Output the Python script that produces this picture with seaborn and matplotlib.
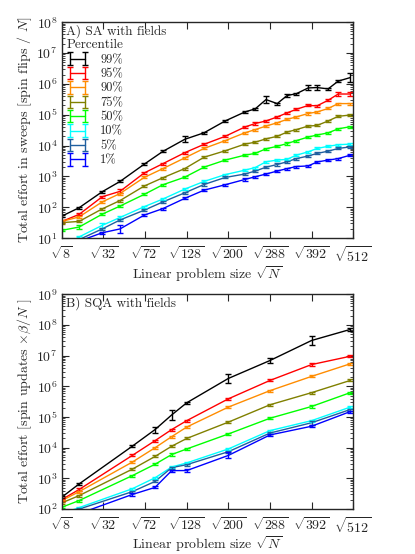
import numpy as np
import pandas as pd
import matplotlib
matplotlib.use("Agg")
import matplotlib.pyplot as plt
from matplotlib.ticker import LogLocator, NullFormatter
import seaborn as sns

# percentiles and colours
percentiles = ["99%", "95%", "90%", "75%", "50%", "10%", "5%", "1%"]
colors = ["#000000", "#ff0000", "#ff8c00", "#808000", "#00ff00", "#00ffff", "#1f5f9f", "#0000ff"]

# problem sizes N
sa_n = [8, 16, 31, 46, 71, 94, 125, 156, 194, 233, 255, 279, 305, 329, 352, 383, 407, 438, 467, 503]
sqa_n = [8, 16, 58, 84, 106, 128, 200, 288, 392, 503]

# A) SA with fields, total effort (sweeps)
sa_p99 = [52, 97, 320, 690, 2500, 6500, 16000, 26000, 63000, 123000, 155000, 310000, 230000, 420000, 480000, 740000, 760000, 690000, 1230000, 1600000]
sa_p95 = [35, 59, 220, 330, 1300, 2600, 5900, 11000, 20000, 40000, 52000, 63000, 85000, 115000, 150000, 200000, 195000, 295000, 470000, 470000]
sa_p90 = [35, 49, 150, 280, 930, 1800, 4000, 8100, 14500, 26000, 33000, 43000, 55000, 71000, 85000, 110000, 123000, 160000, 230000, 230000]
sa_p75 = [32, 35, 89, 166, 490, 910, 1800, 4200, 6800, 11200, 12900, 16600, 20000, 27500, 33000, 43000, 45000, 63000, 89000, 98000]
sa_p50 = [18, 23, 60, 110, 263, 540, 950, 2000, 3400, 4900, 5600, 7900, 9500, 11700, 14500, 19000, 22000, 26000, 35000, 41000]
sa_p10 = [5, 11, 26, 47, 105, 186, 390, 690, 1150, 1600, 1950, 3000, 3400, 3600, 4900, 6300, 8100, 9500, 10700, 11200]
sa_p5 = [4, 9, 20, 39, 81, 150, 295, 550, 930, 1200, 1500, 2000, 2450, 3000, 3800, 4600, 5600, 6600, 8100, 9100]
sa_p1 = [3, 8, 15, 20, 56, 91, 195, 360, 540, 800, 980, 1200, 1500, 1800, 2100, 2200, 2950, 3400, 3800, 4900]

# B) SQA with fields, total effort (spin updates)
sqa_p99 = [245, 660, 11200, 39000, 117000, 290000, 1800000, 6900000, 31000000, 71000000]
sqa_p95 = [205, 435, 5600, 17000, 39000, 76000, 390000, 1550000, 5100000, 9500000]
sqa_p90 = [190, 370, 3400, 10000, 23000, 47000, 210000, 720000, 2100000, 5400000]
sqa_p75 = [160, 275, 2000, 5200, 11200, 20000, 68000, 250000, 620000, 1550000]
sqa_p50 = [115, 190, 1230, 2900, 6000, 9100, 28000, 91000, 220000, 620000]
sqa_p10 = [71, 112, 460, 1050, 2350, 3200, 9100, 36000, 76000, 210000]
sqa_p5 = [56, 100, 370, 800, 2250, 2800, 7400, 30000, 65000, 175000]
sqa_p1 = [40, 71, 300, 510, 1800, 1800, 5600, 26000, 50000, 150000]

# relative errors: default plus larger ones (percentile, index) -> rel
default_err = 0.08
sa_big_err = {("99%", 6): 0.25, ("99%", 11): 0.3, ("99%", 15): 0.2, ("99%", 16): 0.2,
              ("99%", 19): 0.4, ("95%", 3): 0.15, ("95%", 18): 0.15, ("95%", 19): 0.15,
              ("50%", 1): 0.2, ("10%", 2): 0.2, ("1%", 3): 0.35}
sqa_big_err = {("99%", 3): 0.25, ("99%", 4): 0.5, ("99%", 6): 0.45, ("99%", 7): 0.2,
               ("99%", 8): 0.45, ("99%", 9): 0.15, ("95%", 8): 0.15, ("1%", 6): 0.25,
               ("5%", 8): 0.15, ("1%", 5): 0.1}

sa_series = [sa_p99, sa_p95, sa_p90, sa_p75, sa_p50, sa_p10, sa_p5, sa_p1]
sqa_series = [sqa_p99, sqa_p95, sqa_p90, sqa_p75, sqa_p50, sqa_p10, sqa_p5, sqa_p1]

tick_n = [8, 32, 72, 128, 200, 288, 392, 512]


def to_frame(n, series, big_err):
    rows = []
    for p, vals in zip(percentiles, series):
        for i, (nn, v) in enumerate(zip(n, vals)):
            rows.append({"x": np.sqrt(nn), "y": v, "pct": p,
                         "err": big_err.get((p, i), default_err)})
    return pd.DataFrame(rows)


sns.set_style("ticks")
plt.rcParams["font.family"] = ["cmr10", "DejaVu Serif"]
plt.rcParams["mathtext.fontset"] = "cm"
plt.rcParams["axes.formatter.use_mathtext"] = True
plt.rcParams["axes.unicode_minus"] = False

fig = plt.figure(figsize=(4.15, 5.54), dpi=100)
ax1 = fig.add_axes([0.149, 0.570, 0.702, 0.390])
ax2 = fig.add_axes([0.149, 0.081, 0.702, 0.388])

panels = [
    (ax1, to_frame(sa_n, sa_series, sa_big_err), "A) SA with fields", (10, 1e8),
     r"Total effort in sweeps [spin flips / $N$]", True),
    (ax2, to_frame(sqa_n, sqa_series, sqa_big_err), "B) SQA with fields", (1e2, 1e9),
     r"Total effort [spin updates $\times\beta/N$ ]", False),
]

for ax, df, title, ylim, ylabel, show_legend in panels:
    sns.lineplot(data=df, x="x", y="y", hue="pct", hue_order=percentiles,
                 palette=colors, linewidth=1.0, legend=False, ax=ax, sort=False)
    for p, c in zip(percentiles, colors):
        d = df[df["pct"] == p]
        yv = d["y"].to_numpy()
        e = d["err"].to_numpy()
        ax.errorbar(d["x"], yv, yerr=[yv * e / (1 + e), yv * e], fmt="none",
                    ecolor=c, elinewidth=1.0, capsize=2.5, capthick=1.0)
    ax.set_yscale("log")
    ax.set_xlim(np.sqrt(8), np.sqrt(512))
    ax.set_ylim(*ylim)
    ax.yaxis.set_major_locator(LogLocator(base=10, numticks=20))
    ax.yaxis.set_minor_locator(LogLocator(base=10, subs=np.arange(2, 10), numticks=200))
    ax.yaxis.set_minor_formatter(NullFormatter())
    ax.set_xticks([np.sqrt(t) for t in tick_n])
    ax.set_xticklabels([r"$\sqrt{%d}$" % t for t in tick_n])
    ax.tick_params(which="both", direction="in", top=True, right=True, labelsize=10)
    ax.tick_params(which="major", length=5, width=0.8)
    ax.tick_params(which="minor", length=2.5, width=0.6)
    ax.tick_params(axis="x", which="minor", bottom=False, top=False)
    ax.tick_params(axis="x", pad=5)
    ax.tick_params(axis="y", pad=3)
    for s in ax.spines.values():
        s.set_linewidth(1.0)
    ax.set_xlabel(r"Linear problem size $\sqrt{N}$", fontsize=10, labelpad=-1)
    ax.set_ylabel(ylabel, fontsize=10, labelpad=2)
    ax.text(0.015, 0.99, title, transform=ax.transAxes, ha="left", va="top", fontsize=9.5)
    if show_legend:
        handles = []
        for p, c in zip(percentiles, colors):
            h = ax.errorbar([np.nan], [np.nan], yerr=[1], color=c, lw=1.0,
                            capsize=2.5, capthick=1.0, label=p)
            handles.append(h)
        leg = ax.legend(handles=handles, labels=percentiles, title="Percentile",
                        loc="upper left", bbox_to_anchor=(-0.01, 0.955), frameon=False,
                        numpoints=2, fontsize=9, title_fontsize=9.5,
                        handlelength=1.8, handleheight=0.6, handletextpad=0.9,
                        labelspacing=0.18, alignment="left", borderaxespad=0.2)

fig.savefig("out.png", dpi=100)
